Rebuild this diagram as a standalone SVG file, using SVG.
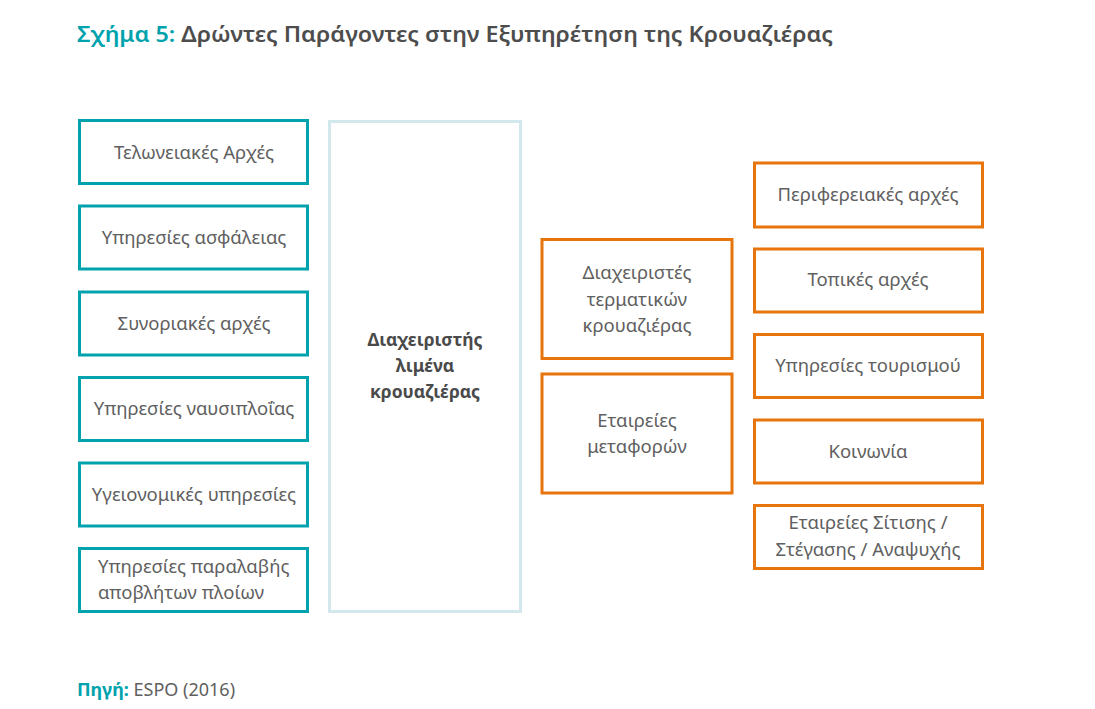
<svg xmlns="http://www.w3.org/2000/svg" width="1095" height="709" viewBox="0 0 1095 709">
<style>
.t{font-family:"Noto Sans","DejaVu Sans",sans-serif;font-size:18.5px;fill:#606060;text-anchor:middle}
.teal{fill:#fff;stroke:#00a3ad;stroke-width:3}
.org{fill:#fff;stroke:#e8740c;stroke-width:3}
.mid{fill:#fff;stroke:#d3e8ec;stroke-width:3}
.b{font-weight:700;fill:#4a4a4a;font-size:17.5px}
</style>
<rect width="1095" height="709" fill="#fff"/>
<text x="77" y="42" font-family="'Noto Sans','DejaVu Sans',sans-serif" font-size="22" font-weight="600" textLength="756" lengthAdjust="spacingAndGlyphs"><tspan fill="#00a3ad">Σχήμα 5:</tspan><tspan fill="#4d4d4d"> Δρώντες Παράγοντες στην Εξυπηρέτηση της Κρουαζιέρας</tspan></text>
<g id="connectors"/>
<g id="n1"><rect class="teal" x="79.5" y="120.5" width="228" height="63"/><text class="t" x="194" y="159">Τελωνειακές Αρχές</text></g>
<g id="n2"><rect class="teal" x="79.5" y="206" width="228" height="63"/><text class="t" x="194" y="244">Υπηρεσίες ασφάλειας</text></g>
<g id="n3"><rect class="teal" x="79.5" y="292" width="228" height="63"/><text class="t" x="194" y="330">Συνοριακές αρχές</text></g>
<g id="n4"><rect class="teal" x="79.5" y="377.5" width="228" height="63"/><text class="t" x="194" y="415">Υπηρεσίες ναυσιπλοΐας</text></g>
<g id="n5"><rect class="teal" x="79.5" y="463" width="228" height="63"/><text class="t" x="194" y="501">Υγειονομικές υπηρεσίες</text></g>
<g id="n6"><rect class="teal" x="79.5" y="548.5" width="228" height="63"/><text class="t" x="98" y="573" style="text-anchor:start">Υπηρεσίες παραλαβής</text><text class="t" x="98" y="599" style="text-anchor:start">αποβλήτων πλοίων</text></g>
<g id="center"><rect class="mid" x="329.5" y="121.5" width="191" height="490"/><text class="t b" x="425" y="346">Διαχειριστής</text><text class="t b" x="425" y="372">λιμένα</text><text class="t b" x="425" y="398">κρουαζιέρας</text></g>
<g id="o1"><rect class="org" x="542" y="239.5" width="190" height="119"/><text class="t" x="637" y="279">Διαχειριστές</text><text class="t" x="637" y="306">τερματικών</text><text class="t" x="637" y="332">κρουαζιέρας</text></g>
<g id="o2"><rect class="org" x="542" y="374" width="190" height="119"/><text class="t" x="637" y="427">Εταιρείες</text><text class="t" x="637" y="453">μεταφορών</text></g>
<g id="r1"><rect class="org" x="754.5" y="163" width="228" height="64"/><text class="t" x="868" y="201">Περιφερειακές αρχές</text></g>
<g id="r2"><rect class="org" x="754.5" y="249" width="228" height="63"/><text class="t" x="868" y="286">Τοπικές αρχές</text></g>
<g id="r3"><rect class="org" x="754.5" y="334.5" width="228" height="63"/><text class="t" x="868" y="372">Υπηρεσίες τουρισμού</text></g>
<g id="r4"><rect class="org" x="754.5" y="420" width="228" height="63"/><text class="t" x="868" y="458">Κοινωνία</text></g>
<g id="r5"><rect class="org" x="754.5" y="505.5" width="228" height="63"/><text class="t" x="868" y="529">Εταιρείες Σίτισης /</text><text class="t" x="868" y="556">Στέγασης / Αναψυχής</text></g>
<text x="77" y="696" font-family="'Noto Sans','DejaVu Sans',sans-serif" font-size="18"><tspan fill="#00a3ad" font-weight="700">Πηγή:</tspan><tspan fill="#606060"> ESPO (2016)</tspan></text>
</svg>
